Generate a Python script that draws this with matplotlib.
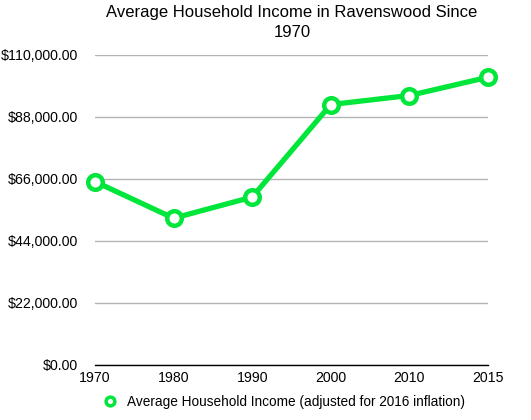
import matplotlib
matplotlib.use("Agg")
import matplotlib.pyplot as plt
from matplotlib.ticker import FuncFormatter

years = ["1970", "1980", "1990", "2000", "2010", "2015"]
income = [65000, 52000, 59500, 92400, 95600, 102100]
yticks = [0, 22000, 44000, 66000, 88000, 110000]
title = "Average Household Income in Ravenswood Since\n1970"
series_label = "Average Household Income (adjusted for 2016 inflation)"

green = "#00E63A"
plt.rcParams['font.family'] = ['Liberation Sans', 'DejaVu Sans']

fig = plt.figure(figsize=(5.31, 4.20), dpi=100)
ax = fig.add_axes([95/531, 1-364.5/420, (488-95)/531, (364.5-55)/420])

x = list(range(len(years)))
ax.plot(x, income, color=green, lw=3.8, marker='o', markersize=10.5,
        markerfacecolor='white', markeredgecolor=green, markeredgewidth=3.2,
        clip_on=False, zorder=5, label=series_label)

ax.set_xlim(0, len(years)-1)
ax.set_ylim(0, 110000)
ax.set_yticks(yticks)
ax.yaxis.set_major_formatter(FuncFormatter(lambda v, p: "${:,.2f}".format(v)))
ax.set_xticks(x)
ax.set_xticklabels(years)
ax.grid(axis='y', color='#b3b3b3', lw=1)
ax.set_axisbelow(True)
for s in ['top', 'right', 'left']:
    ax.spines[s].set_visible(False)
ax.spines['bottom'].set_color('black')
ax.spines['bottom'].set_linewidth(1)
ax.tick_params(axis='both', length=0, labelsize=10.2, colors='black')
ax.tick_params(axis='y', pad=12)
ax.tick_params(axis='x', pad=5)

fig.text(292/531, 1-5/420, title, ha='center', va='top', fontsize=12, linespacing=1.4)

fig.legend(loc='center', bbox_to_anchor=(284/531, 1-402/420), frameon=False,
           fontsize=9.8, handlelength=1.0, handletextpad=0.8,
           markerscale=0.6)
leg = fig.legends[0]
for h in leg.legend_handles:
    h.set_linestyle('none')
    h.set_markeredgewidth(2.5)

fig.savefig("out.png", dpi=100)
